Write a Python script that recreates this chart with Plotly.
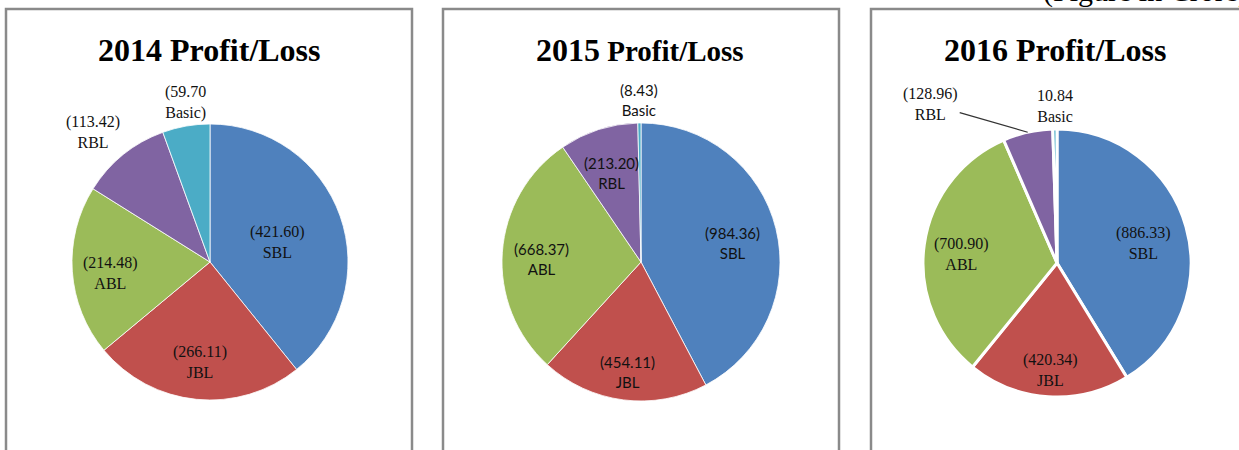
import math
import plotly.graph_objects as go

banks = ["SBL", "JBL", "ABL", "RBL", "Basic"]
profit_2014 = [-421.60, -266.11, -214.48, -113.42, -59.70]
profit_2015 = [-984.36, -454.11, -668.37, -213.20, -8.43]
profit_2016 = [-886.33, -420.34, -700.90, -128.96, 10.84]

colors = ["#4F81BD", "#C0504D", "#9BBB59", "#8064A2", "#4BACC6"]


def fmt(v):
    return f"({abs(v):.2f})" if v < 0 else f"{v:.2f}"


def labels_for(vals):
    return [f"{fmt(v)}<br>{b}" for v, b in zip(vals, banks)]


text_2014 = labels_for(profit_2014)
text_2014[4] = f"({abs(profit_2014[4]):.2f}<br>{banks[4]})"  # as printed in the source
text_2015 = labels_for(profit_2015)
text_2016 = labels_for(profit_2016)

W, H = 1239, 450
serif = "Liberation Serif, Times New Roman, serif"
sans = "Lato, Calibri, sans-serif"

# layout/style per panel: pie centre & radius in px, label mode per slice
# ("in", fraction of radius) / ("out",) / ("leader",)
panels = [
    dict(vals=profit_2014, text=text_2014, cx=210, cy=262, r=138, font=serif, size=16,
         line=0.8, modes=[("in", 0.52), ("in", 0.70), ("in", 0.72), ("out",), ("out",)]),
    dict(vals=profit_2015, text=text_2015, cx=641, cy=262, r=139, font=sans, size=15,
         line=0.8, modes=[("in", 0.68), ("in", 0.77), ("in", 0.72), ("in", 0.70), ("out",)]),
    dict(vals=profit_2016, text=text_2016, cx=1057, cy=263, r=134, font=serif, size=16,
         line=3, modes=[("in", 0.67), ("in", 0.77), ("in", 0.72), ("leader",), ("out",)]),
]


def px_dom(cx, cy, r):
    return dict(x=[(cx - r) / W, (cx + r) / W], y=[1 - (cy + r) / H, 1 - (cy - r) / H])


fig = go.Figure()
annotations = []
for p in panels:
    vals = [abs(v) for v in p["vals"]]
    fig.add_trace(go.Pie(
        values=vals, labels=banks, text=p["text"],
        textinfo="none", sort=False, direction="clockwise", rotation=0,
        marker=dict(colors=colors, line=dict(color="white", width=p["line"])),
        domain=px_dom(p["cx"], p["cy"], p["r"]), showlegend=False, hoverinfo="label+text",
    ))
    # data labels, placed along each slice's mid-angle
    total = sum(vals)
    cum = 0
    lab_font = dict(family=p["font"], size=p["size"], color="#111")
    for i, v in enumerate(vals):
        mid = (cum + v / 2) / total * 2 * math.pi
        cum += v
        sx, sy = math.sin(mid), -math.cos(mid)
        mode = p["modes"][i]
        if mode[0] == "in":
            rr = p["r"] * mode[1]
            px_, py_ = p["cx"] + rr * sx, p["cy"] + rr * sy
            annotations.append(dict(x=px_ / W, y=1 - py_ / H, xref="paper", yref="paper",
                                    text=p["text"][i], showarrow=False, xanchor="center",
                                    yanchor="middle", yshift=-4, font=lab_font))
        elif mode[0] == "out":
            rr = p["r"] + 2
            px_, py_ = p["cx"] + rr * sx, p["cy"] + rr * sy
            xa = "center" if abs(sx) < 0.3 else ("right" if sx < 0 else "left")
            ya = "bottom" if sy < 0 else "top"
            annotations.append(dict(x=px_ / W, y=1 - py_ / H, xref="paper", yref="paper",
                                    text=p["text"][i], showarrow=False, xanchor=xa,
                                    yanchor=ya, font=lab_font))
        else:
            rr = p["r"]
            px_, py_ = p["cx"] + rr * sx, p["cy"] + rr * sy
            annotations.append(dict(x=px_ / W, y=1 - py_ / H, xref="paper", yref="paper",
                                    text=p["text"][i], showarrow=True, arrowhead=0,
                                    arrowwidth=1.2, arrowcolor="#333", ax=-97, ay=-28,
                                    font=lab_font))

# panel frames
frame = dict(color="#8a8a8a", width=2.5)
shapes = []
for x0, x1 in [(6, 412), (443, 839), (871, 1260)]:
    shapes.append(dict(type="path", xref="paper", yref="paper",
                       path=f"M {x0/W},-0.2 L {x0/W},{1-9/H} L {x1/W},{1-9/H} L {x1/W},-0.2",
                       line=frame))

titles = [
    (209, "<b>2014 Profit/Loss</b>", 32),
    (640, "<b><span style='font-size:32px'>2015</span> Profit/Loss</b>", 29),
    (1055, "<b>2016 Profit/Loss</b>", 32),
]
for cx, t, fs in titles:
    annotations.append(dict(x=cx / W, y=1 - 50 / H, xref="paper", yref="paper", text=t,
                            showarrow=False, xanchor="center", yanchor="middle",
                            font=dict(family=serif, size=fs, color="black")))
annotations.append(dict(x=1041 / W, y=1 - 10 / H, xref="paper", yref="paper",
                        text="(Figure in Crore)", showarrow=False, xanchor="left",
                        yanchor="bottom", font=dict(family=serif, size=30, color="black")))

fig.update_layout(width=W, height=H, margin=dict(l=0, r=0, t=0, b=0),
                  paper_bgcolor="white", plot_bgcolor="white",
                  shapes=shapes, annotations=annotations)

fig.write_html("out.html")
